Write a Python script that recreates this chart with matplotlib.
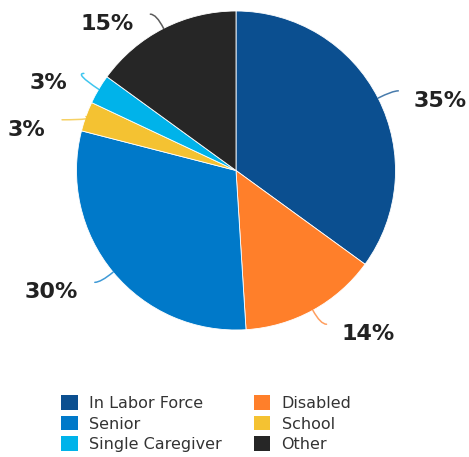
import matplotlib
matplotlib.use("Agg")
import matplotlib.pyplot as plt
from matplotlib.patches import Patch
import numpy as np

# ---- data ----
categories = ["In Labor Force", "Disabled", "Senior", "School", "Single Caregiver", "Other"]
shares = [35, 14, 30, 3, 3, 15]
pct_labels = ["35%", "14%", "30%", "3%", "3%", "15%"]
colors = ["#0B4F90", "#FF7F2A", "#0079C9", "#F4C232", "#00B3EA", "#262626"]

# ---- layout ----
W, H = 469, 457
fig = plt.figure(figsize=(W / 100, H / 100), dpi=100)
ax = fig.add_axes([0, 0, 1, 1])

cx, cy, R = 236, H - 170.5, 159.5
wedges, _ = ax.pie(shares, colors=colors, startangle=90, counterclock=False,
                   center=(cx, cy), radius=R,
                   wedgeprops=dict(edgecolor="white", linewidth=0.6))
ax.set_xlim(0, W)
ax.set_ylim(0, H)
ax.set_aspect("equal")
ax.axis("off")

# small angular nudges (degrees) to spread the tiny-slice labels apart
nudge = [0, 0, 0, 3, -3, 0]
for w, lab, col, dn in zip(wedges, pct_labels, colors, nudge):
    mid_deg = (w.theta1 + w.theta2) / 2
    mid = np.deg2rad(mid_deg)
    ang_end = mid + np.deg2rad(dn)
    sx, sy = cx + R * np.cos(mid), cy + R * np.sin(mid)
    right = np.cos(ang_end) >= 0
    ex = cx + 1.10 * R * np.cos(ang_end) + (6 if right else -6)
    ey = cy + 1.10 * R * np.sin(ang_end)
    ax.annotate("", xy=(sx, sy), xytext=(ex, ey),
                arrowprops=dict(arrowstyle="-", color=col, lw=1.1, alpha=0.75,
                                shrinkA=0, shrinkB=0,
                                connectionstyle="angle3,angleA=0,angleB=%.1f" % (mid_deg + dn)))
    tx = ex + (15 if right else -17)
    ax.text(tx, ey - 10, lab, ha="left" if right else "right", va="center",
            fontsize=16, fontweight="bold", color="#222222", family="DejaVu Sans")

order = [0, 2, 4, 1, 3, 5]
handles = [Patch(facecolor=colors[i], edgecolor="none", label=categories[i]) for i in order]
ax.legend(handles=handles, ncol=2, loc="upper left",
          bbox_to_anchor=(61, H - 395), bbox_transform=ax.transData,
          frameon=False, borderpad=0, borderaxespad=0,
          handlelength=1.05, handleheight=1.05, handletextpad=0.7,
          columnspacing=2.0, labelspacing=0.3, fontsize=11.5,
          labelcolor="#333333")

fig.savefig("out.png", dpi=100)
